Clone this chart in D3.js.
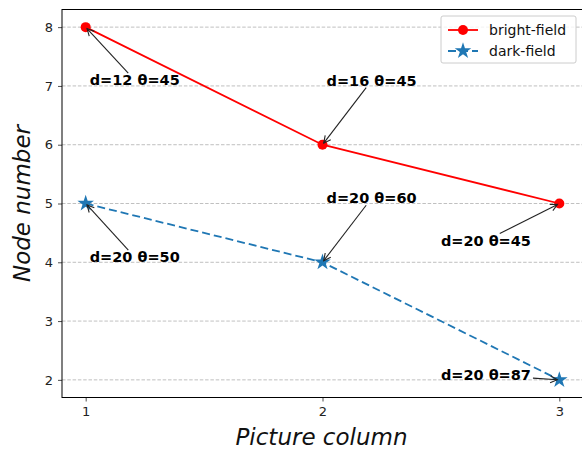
<!DOCTYPE html>
<html>
<head>
<meta charset="utf-8">
<script src="https://cdn.jsdelivr.net/npm/d3@7.9.0/dist/d3.min.js"></script>
<style>
  body { margin: 0; background: #fff; }
  svg { font-family: "DejaVu Sans", sans-serif; }
</style>
</head>
<body>
<svg id="chart" width="582" height="451"></svg>
<script>
// Data
const columns = [1, 2, 3];
const brightField = [8, 6, 5];
const darkField = [5, 4, 2];
const xTicks = [1, 2, 3];
const yTicks = [2, 3, 4, 5, 6, 7, 8];

// annotation label, point, text anchor (left, middle) in data units
const notes = [
  { label: "d=12 θ=45", x: 1, y: 8, tx: 1.017, ty: 7.1 },
  { label: "d=16 θ=45", x: 2, y: 6, tx: 2.017, ty: 7.09 },
  { label: "d=20 θ=45", x: 3, y: 5, tx: 2.5, ty: 4.37 },
  { label: "d=20 θ=50", x: 1, y: 5, tx: 1.017, ty: 4.09 },
  { label: "d=20 θ=60", x: 2, y: 4, tx: 2.017, ty: 5.09 },
  { label: "d=20 θ=87", x: 3, y: 2, tx: 2.5, ty: 2.085 }
];

const margin = { top: 9.5, right: -1, bottom: 53.5, left: 62 };
const width = 582, height = 451;
const svg = d3.select("#chart");

const x = d3.scaleLinear().domain([0.9, 3.1]).range([margin.left, width - margin.right]);
const y = d3.scaleLinear().domain([1.7, 8.3]).range([height - margin.bottom, margin.top]);

// grid
svg.append("g")
  .selectAll("line")
  .data(yTicks)
  .join("line")
  .attr("x1", x.range()[0]).attr("x2", x.range()[1])
  .attr("y1", d => y(d)).attr("y2", d => y(d))
  .attr("stroke", "#b0b0b0")
  .attr("stroke-width", 0.8)
  .attr("stroke-dasharray", "3.5,1.8");

// axes
const xAxis = svg.append("g")
  .attr("transform", `translate(0,${y.range()[0]})`)
  .call(d3.axisBottom(x).tickValues(xTicks).tickFormat(d3.format("d")).tickSizeOuter(0).tickSize(4).tickPadding(5));
const yAxis = svg.append("g")
  .attr("transform", `translate(${x.range()[0]},0)`)
  .call(d3.axisLeft(y).tickValues(yTicks).tickFormat(d3.format("d")).tickSizeOuter(0).tickSize(4).tickPadding(5));
[xAxis, yAxis].forEach(g => {
  g.select(".domain").remove();
  g.selectAll("text").attr("font-size", 13).attr("fill", "#222").attr("font-family", "DejaVu Sans");
  g.selectAll("line").attr("stroke", "#222").attr("stroke-width", 0.8);
});

// frame
svg.append("rect")
  .attr("x", x.range()[0]).attr("y", y.range()[1])
  .attr("width", x.range()[1] - x.range()[0])
  .attr("height", y.range()[0] - y.range()[1])
  .attr("fill", "none").attr("stroke", "#000").attr("stroke-width", 1);

// axis labels
svg.append("text")
  .attr("x", (x.range()[0] + x.range()[1]) / 2 - 1)
  .attr("y", 445)
  .attr("text-anchor", "middle")
  .attr("font-size", 23)
  .attr("font-style", "italic")
  .attr("fill", "#111")
  .text("Picture column");
svg.append("text")
  .attr("transform", `translate(30,${(y.range()[0] + y.range()[1]) / 2}) rotate(-90)`)
  .attr("text-anchor", "middle")
  .attr("font-size", 23)
  .attr("font-style", "italic")
  .attr("fill", "#111")
  .text("Node number");

const red = "#ff0000", blue = "#1f77b4";
const line = d3.line().x(d => x(d[0])).y(d => y(d[1]));
const brightPts = columns.map((c, i) => [c, brightField[i]]);
const darkPts = columns.map((c, i) => [c, darkField[i]]);

svg.append("path").datum(brightPts).attr("d", line)
  .attr("fill", "none").attr("stroke", red).attr("stroke-width", 1.8);
svg.append("path").datum(darkPts).attr("d", line)
  .attr("fill", "none").attr("stroke", blue).attr("stroke-width", 1.8)
  .attr("stroke-dasharray", "8,4");

svg.append("g").selectAll("circle").data(brightPts).join("circle")
  .attr("cx", d => x(d[0])).attr("cy", d => y(d[1])).attr("r", 5)
  .attr("fill", red);
const star = d3.symbol(d3.symbolStar).size(85);
svg.append("g").selectAll("path").data(darkPts).join("path")
  .attr("d", star)
  .attr("transform", d => `translate(${x(d[0])},${y(d[1])})`)
  .attr("fill", blue);

// annotations
const ann = svg.append("g");
notes.forEach(n => {
  const t = ann.append("text")
    .attr("x", x(n.tx)).attr("y", y(n.ty))
    .attr("dy", "0.35em")
    .attr("font-size", 14.5)
    .attr("font-weight", "bold")
    .attr("fill", "#000")
    .text(n.label);
  const bb = t.node().getBBox();
  const pad = 2;
  const cx = bb.x + bb.width / 2, cy = bb.y + bb.height / 2;
  const px = x(n.x), py = y(n.y);
  const dx = px - cx, dy = py - cy;
  // clip from center to bbox edge
  const hw = bb.width / 2 + pad, hh = bb.height / 2 + pad - 3;
  const s = Math.min(Math.abs(hw / dx) || Infinity, Math.abs(hh / dy) || Infinity);
  const sx = cx + dx * s, sy = cy + dy * s;
  const len = Math.hypot(px - sx, py - sy);
  const ux = (px - sx) / len, uy = (py - sy) / len;
  const ex = px - ux * 2, ey = py - uy * 2;
  ann.append("line")
    .attr("x1", sx).attr("y1", sy).attr("x2", ex).attr("y2", ey)
    .attr("stroke", "#222").attr("stroke-width", 1.1);
  const hl = 7, hw2 = 3.5;
  const bx = ex - ux * hl, by = ey - uy * hl;
  ann.append("path")
    .attr("d", `M${bx - uy * hw2},${by + ux * hw2}L${ex},${ey}L${bx + uy * hw2},${by - ux * hw2}`)
    .attr("fill", "none").attr("stroke", "#222").attr("stroke-width", 1.1);
});

// legend
const lg = svg.append("g").attr("transform", "translate(441,16)");
lg.append("rect").attr("width", 135).attr("height", 47).attr("rx", 2)
  .attr("fill", "#fff").attr("fill-opacity", 0.8).attr("stroke", "#ccc");
const items = [
  { name: "bright-field", color: red, dash: null, shape: "circle" },
  { name: "dark-field", color: blue, dash: "8,4", shape: "star" }
];
items.forEach((it, i) => {
  const g = lg.append("g").attr("transform", `translate(0,${14 + i * 21})`);
  g.append("line").attr("x1", 7).attr("x2", 37).attr("stroke", it.color)
    .attr("stroke-width", 1.8).attr("stroke-dasharray", it.dash);
  if (it.shape === "circle") {
    g.append("circle").attr("cx", 22).attr("r", 5).attr("fill", it.color);
  } else {
    g.append("path").attr("d", star).attr("transform", "translate(22,0)").attr("fill", it.color);
  }
  g.append("text").attr("x", 48).attr("dy", "0.35em").attr("font-size", 14)
    .attr("fill", "#111").text(it.name);
});
</script>
</body>
</html>
